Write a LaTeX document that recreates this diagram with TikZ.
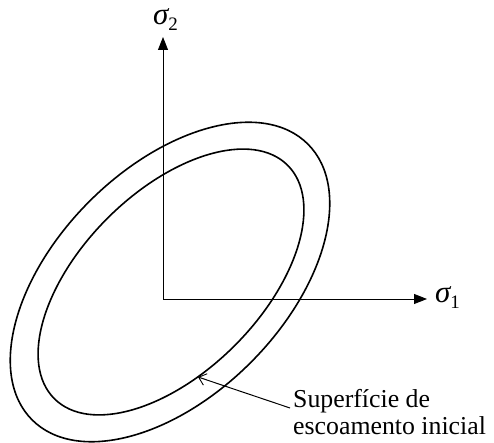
\documentclass[tikz,border=0pt]{standalone}
\usepackage{fontspec}
\setmainfont{Liberation Serif}
\usetikzlibrary{arrows.meta}
\tikzset{
  axis/.style={line width=0.9pt,-{Triangle[length=13pt,width=10pt]}},
  yieldcurve/.style={line width=1.6pt},
  pointer/.style={line width=1pt,-{Straight Barb[length=7pt,width=12pt,line width=0.9pt]}},
  lbl/.style={font=\fontsize{25.8}{27}\selectfont,inner sep=0pt},
  sym/.style={font=\fontsize{31}{31}\selectfont,inner sep=0pt},
}
\newcommand{\sub}[1]{\raisebox{-0.4ex}{\upshape\fontsize{19}{19}\selectfont #1}}
\begin{document}
\begin{tikzpicture}[x=1pt,y=1pt]
\useasboundingbox (0,0) rectangle (494,443);
% ellipses
\draw[yieldcurve,rotate around={45:(170,161)}] (170,161) ellipse (195 and 114);
\draw[yieldcurve,rotate around={45:(171,161)}] (171,161) ellipse (165 and 90);
% axes
\coordinate (O) at (163,144);
\coordinate (ytip) at (163,406);
\coordinate (xtip) at (427,144);
\draw[axis] (O) -- (ytip);
\draw[axis] (O) -- (xtip);
\node[sym,anchor=base west] (s2) at (153,418) {\itshape σ\sub{2}};
\node[sym,anchor=base west] (s1) at (435,140) {\itshape σ\sub{1}};
% label
\node[lbl,anchor=base west,align=left] (txt) at (293,8) {Superfície de\\escoamento inicial};
\coordinate (pstart) at (290,35);
\coordinate (ptip) at (198,66);
\draw[pointer] (pstart) -- (ptip);
\end{tikzpicture}
\end{document}
